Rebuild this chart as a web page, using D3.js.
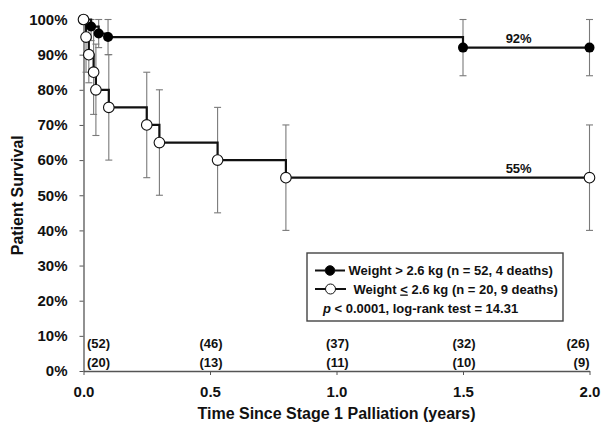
<!DOCTYPE html>
<html>
<head>
<meta charset="utf-8">
<script src="https://cdn.jsdelivr.net/npm/d3@7"></script>
<style>
  html, body { margin: 0; padding: 0; background: #fff; }
  svg { display: block; font-family: "Liberation Sans", Arial, sans-serif; font-weight: bold; }
</style>
</head>
<body>
<svg id="chart" width="601" height="428"></svg>
<script>
// ---- Data ----
// Weight <= 2.6 kg (open circles)
const lowTimes  = [0, 0.01, 0.021, 0.04, 0.049, 0.1, 0.25, 0.30, 0.53, 0.80, 2.0];
const lowSurv   = [100, 95, 90, 85, 80, 75, 70, 65, 60, 55, 55];
const lowCILo   = [null, 85, 82, 73, 67, 60, 55, 50, 45, 40, 40];
const lowCIHi   = [null, 100, 98, 97, 93, 90, 85, 80, 75, 70, 70];
// Weight > 2.6 kg (filled circles)
const highTimes = [0, 0.03, 0.06, 0.097, 1.5, 2.0];
const highSurv  = [100, 98, 96, 95, 92, 92];
const highCILo  = [null, 94, 92, 90, 84, 84];
const highCIHi  = [null, 100, 100, 100, 100, 100];
// Numbers at risk
const riskTimes = [0, 0.5, 1.0, 1.5, 2.0];
const riskHigh  = [52, 46, 37, 32, 26];
const riskLow   = [20, 13, 11, 10, 9];
// Axis ticks
const xTicks = [0, 0.5, 1.0, 1.5, 2.0];
const yTicks = [0, 10, 20, 30, 40, 50, 60, 70, 80, 90, 100];
// End labels
const endLabels = [{text: "92%", t: 1.72, v: 92}, {text: "55%", t: 1.72, v: 55}];

(function () {
// ---- Layout ----
const svg = d3.select("#chart");
const mLeft = 83.5, mRight = 589.5, mTop = 19.5, mBottom = 371;
const x = d3.scaleLinear().domain([0, 2]).range([mLeft, mRight]);
const y = d3.scaleLinear().domain([0, 100]).range([mBottom, mTop]);
const axisColor = "#555";
const barColor = "#7a7a7a";

// Axes
const gx = svg.append("g").attr("transform", `translate(0,${mBottom})`)
  .call(d3.axisBottom(x).tickValues(xTicks).tickFormat(d3.format(".1f")).tickSize(4).tickPadding(11.5).tickSizeOuter(0));
const gy = svg.append("g").attr("transform", `translate(${mLeft},0)`)
  .call(d3.axisLeft(y).tickValues(yTicks).tickFormat(d => d + "%").tickSize(4).tickPadding(12).tickSizeOuter(0));
[gx, gy].forEach(g => {
  g.select(".domain").attr("stroke", axisColor).attr("stroke-width", 1.3);
  g.selectAll(".tick line").attr("stroke", axisColor).attr("stroke-width", 1);
  g.selectAll(".tick text").attr("fill", "#111").style("font-size", "15px")
    .style("font-weight", "bold").style("font-family", '"Liberation Sans", Arial, sans-serif');
});

// Axis titles
svg.append("text").attr("x", (mLeft + mRight) / 2).attr("y", 419)
  .attr("text-anchor", "middle").attr("fill", "#111").style("font-size", "16px")
  .text("Time Since Stage 1 Palliation (years)");
svg.append("text").attr("transform", `translate(23,${(mTop + mBottom) / 2}) rotate(-90)`)
  .attr("text-anchor", "middle").attr("fill", "#111").style("font-size", "16px")
  .text("Patient Survival");

// Error bars
function errorBars(times, lo, hi) {
  const data = times.map((t, i) => ({t, lo: lo[i], hi: hi[i]})).filter(d => d.lo != null);
  const g = svg.append("g").attr("stroke", barColor).attr("stroke-width", 1.1).attr("fill", "none");
  g.selectAll("line.v").data(data).join("line").attr("class", "v")
    .attr("x1", d => x(d.t)).attr("x2", d => x(d.t)).attr("y1", d => y(d.lo)).attr("y2", d => y(d.hi));
  g.selectAll("line.lo").data(data).join("line").attr("class", "lo")
    .attr("x1", d => x(d.t) - 3.5).attr("x2", d => x(d.t) + 3.5).attr("y1", d => y(d.lo)).attr("y2", d => y(d.lo));
  g.selectAll("line.hi").data(data).join("line").attr("class", "hi")
    .attr("x1", d => x(d.t) - 3.5).attr("x2", d => x(d.t) + 3.5).attr("y1", d => y(d.hi)).attr("y2", d => y(d.hi));
}
errorBars(lowTimes, lowCILo, lowCIHi);
errorBars(highTimes, highCILo, highCIHi);

// Step lines
const step = d3.line().x(d => x(d[0])).y(d => y(d[1])).curve(d3.curveStepAfter);
svg.append("path").datum(lowTimes.map((t, i) => [t, lowSurv[i]]))
  .attr("d", step).attr("fill", "none").attr("stroke", "#111").attr("stroke-width", 2.2);
svg.append("path").datum(highTimes.map((t, i) => [t, highSurv[i]]))
  .attr("d", step).attr("fill", "none").attr("stroke", "#111").attr("stroke-width", 2.2);

// Markers
svg.append("g").selectAll("circle").data(highTimes.map((t, i) => [t, highSurv[i]])).join("circle")
  .attr("cx", d => x(d[0])).attr("cy", d => y(d[1])).attr("r", 5).attr("fill", "#000");
svg.append("g").selectAll("circle").data(lowTimes.map((t, i) => [t, lowSurv[i]])).join("circle")
  .attr("cx", d => x(d[0])).attr("cy", d => y(d[1])).attr("r", 5.3)
  .attr("fill", "#fff").attr("stroke", "#111").attr("stroke-width", 1.1);

// End labels
svg.append("g").selectAll("text").data(endLabels).join("text")
  .attr("x", d => x(d.t)).attr("y", d => y(d.v) - 4.5).attr("text-anchor", "middle")
  .attr("fill", "#111").style("font-size", "13px").text(d => d.text);

// Numbers at risk
function riskRow(vals, yy) {
  svg.append("g").selectAll("text").data(vals).join("text")
    .attr("x", (d, i) => i === 0 ? x(riskTimes[i]) + 3.5 : i === vals.length - 1 ? x(riskTimes[i]) : x(riskTimes[i]) + 1)
    .attr("y", yy)
    .attr("text-anchor", (d, i) => i === 0 ? "start" : i === vals.length - 1 ? "end" : "middle")
    .attr("fill", "#111").style("font-size", "13px").text(d => `(${d})`);
}
riskRow(riskHigh, 348);
riskRow(riskLow, 366.5);

// Legend
const lg = svg.append("g");
lg.append("rect").attr("x", 307).attr("y", 253).attr("width", 256).attr("height", 68)
  .attr("fill", "#fff").attr("stroke", "#444").attr("stroke-width", 1.4);
const legendRows = [
  {y: 270.5, fill: "#000", r: 4.8, x0: 315, x1: 345},
  {y: 289, fill: "#fff", r: 5, x0: 315, x1: 346}
];
legendRows.forEach(r => {
  lg.append("line").attr("x1", r.x0).attr("x2", r.x1).attr("y1", r.y).attr("y2", r.y)
    .attr("stroke", "#111").attr("stroke-width", 2);
  lg.append("circle").attr("cx", (r.x0 + r.x1) / 2).attr("cy", r.y).attr("r", r.r)
    .attr("fill", r.fill).attr("stroke", "#111").attr("stroke-width", 1);
});
lg.append("text").attr("x", 348.5).attr("y", 275).attr("fill", "#111").style("font-size", "13px")
  .text("Weight > 2.6 kg (n = 52, 4 deaths)");
const t2 = lg.append("text").attr("x", 353.5).attr("y", 293.5).attr("fill", "#111").style("font-size", "13px");
t2.append("tspan").text("Weight ");
t2.append("tspan").style("text-decoration", "underline").text("<");
t2.append("tspan").text(" 2.6 kg (n = 20, 9 deaths)");
const t3 = lg.append("text").attr("x", 323).attr("y", 312.5).attr("fill", "#111").style("font-size", "13px");
t3.append("tspan").style("font-style", "italic").text("p");
t3.append("tspan").text(" < 0.0001, log-rank test = 14.31");
})();
</script>
</body>
</html>
